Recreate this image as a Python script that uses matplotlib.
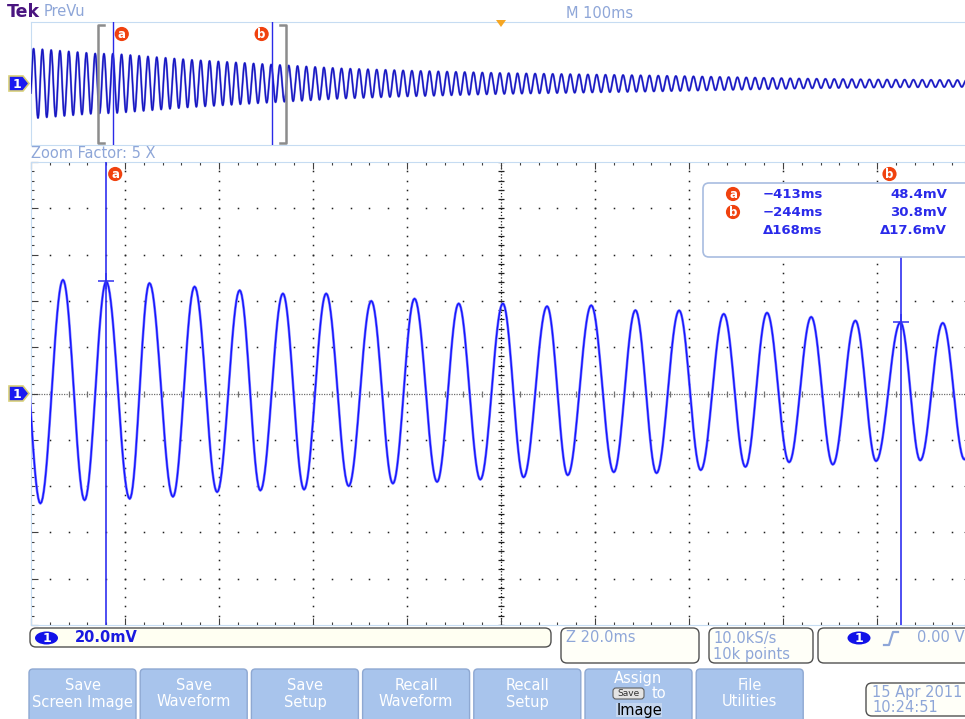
import numpy as np
import matplotlib.pyplot as plt
from matplotlib.patches import FancyBboxPatch, Polygon, Ellipse, Rectangle

W, H = 965, 719

# zoom window: 20 ms/div, 20 mV/div, 10 x 10 divisions
t_div = 20.0
v_div = 20.0
t_center = -329.0

# cursor a / b (time in ms, level in mV)
cursor_t = [-413.0, -244.0]
cursor_mv = [48.4, 30.8]
readout_time = ["\u2212413ms", "\u2212244ms", "\u0394168ms"]
readout_level = ["48.4mV", "30.8mV", "\u039417.6mV"]

# extrema of the zoomed trace
peak_t = [-431.6, -422.2, -413.0, -403.8, -394.2, -384.6, -375.4, -366.2,
          -356.6, -347.4, -338.0, -328.6, -319.2, -309.8, -300.4, -291.1,
          -281.6, -272.4, -263.0, -253.6, -244.0, -235.0, -225.8]
peak_mv = [48.0, 49.1, 48.4, 47.7, 46.2, 44.6, 43.2, 43.2,
           40.0, 41.0, 38.9, 38.9, 37.7, 38.1, 36.0, 35.9,
           34.4, 34.9, 33.1, 31.5, 30.8, 30.5, 30.0]
trough_t = [-427.0, -417.6, -408.0, -398.8, -389.4, -380.2, -370.9, -361.4,
            -352.0, -342.6, -333.4, -324.2, -314.8, -305.0, -295.9, -286.5,
            -277.0, -267.7, -258.4, -249.2, -239.8, -230.4]
trough_mv = [-47.5, -46.1, -45.5, -44.6, -42.6, -41.9, -41.5, -40.0,
             -38.9, -38.2, -37.2, -36.2, -35.3, -34.0, -34.4, -33.1,
             -31.7, -29.7, -30.7, -29.2, -28.9, -28.5]

# whole record (PreVu): envelope of the ringing, 100 ms/div
prevu_t = [-500, -430, -413, -330, -244, -170, -100, 0, 80, 160, 240, 320, 400, 500]
prevu_amp = [57, 48.5, 48.4, 38.5, 30.8, 24.5, 21, 17, 15, 13, 10.5, 8, 6.5, 5.5]
period_ms = 9.36
record_points = 10000

buttons = ["Save\nScreen Image", "Save\nWaveform", "Save\nSetup",
           "Recall\nWaveform", "Recall\nSetup", None, "File\nUtilities"]

LIGHT = "#8ea6d8"
BLUE = "#2a2aea"
EDGE = "#c6dcf2"


def px(x, y, w, h):
    return [x / W, 1 - (y + h) / H, w / W, h / H]


def half_cos(times, values, n=20):
    ts, vs = [], []
    for i in range(len(times) - 1):
        s = np.linspace(0, 1, n, endpoint=False)
        ts.append(times[i] + s * (times[i + 1] - times[i]))
        vs.append(values[i] + (values[i + 1] - values[i]) * (1 - np.cos(np.pi * s)) / 2)
    ts.append([times[-1]])
    vs.append([values[-1]])
    return np.concatenate(ts), np.concatenate(vs)


def badge(ax, x, letter, dx, dy):
    ax.annotate(letter, xy=(x, 1), xycoords=("data", "axes fraction"),
                xytext=(dx * 0.72, dy * 0.72), textcoords="offset points",
                ha="center", va="center", color="white", fontsize=8.5,
                fontweight="bold", annotation_clip=False,
                bbox=dict(boxstyle="circle,pad=0.05", fc="#f0420f", ec="none"))


fig = plt.figure(figsize=(W / 100, H / 100), dpi=100)
fig.patch.set_facecolor("white")

# ---- PreVu strip ----
ax_pv = fig.add_axes(px(31, 22, 940, 123))
rec_t = np.linspace(-500, 500, record_points)
rec_v = np.interp(rec_t, prevu_t, prevu_amp) * np.cos(2 * np.pi * (rec_t - cursor_t[0]) / period_ms)
ax_pv.plot(rec_t, rec_v, color="#7070e0", lw=1.5, zorder=2)
ax_pv.plot(rec_t, rec_v, color="#1414c0", lw=0.9, zorder=3)
ax_pv.set_xlim(-500, 500)
ax_pv.set_ylim(-100, 100)
ax_pv.set_xticks([])
ax_pv.set_yticks([])
for side in ["top", "bottom", "left"]:
    ax_pv.spines[side].set_color(EDGE)
ax_pv.spines["right"].set_visible(False)
tr = ax_pv.get_xaxis_transform()
zl, zr = t_center - 5 * t_div, t_center + 5 * t_div
arm = 6.4
ax_pv.plot([zl + arm, zl, zl, zl + arm], [0.976, 0.976, 0.016, 0.016],
           transform=tr, color="#8c8c8c", lw=1.8, zorder=4)
ax_pv.plot([zr - arm, zr, zr, zr - arm], [0.976, 0.976, 0.016, 0.016],
           transform=tr, color="#8c8c8c", lw=1.8, zorder=4)
for t in cursor_t:
    ax_pv.axvline(t, color="#2a2ae8", lw=1.0, zorder=5)
badge(ax_pv, cursor_t[0], "a", 9, -12)
badge(ax_pv, cursor_t[1], "b", -10, -12)

# ---- zoom window ----
ax = fig.add_axes(px(31, 162, 940, 463))
ax.set_xlim(t_center - 5 * t_div, t_center + 5 * t_div)
ax.set_ylim(-5 * v_div, 5 * v_div)
major_t = t_center + t_div * np.arange(-5, 6)
major_v = v_div * np.arange(-5, 6)
minor_t = t_center + t_div / 5 * np.arange(-25, 26)
minor_v = v_div / 5 * np.arange(-25, 26)
ax.set_xticks(major_t)
ax.set_xticks(minor_t, minor=True)
ax.set_yticks(major_v)
ax.set_yticks(minor_v, minor=True)
ax.tick_params(which="both", direction="in", top=True, bottom=True, left=True,
               right=True, labelbottom=False, labelleft=False,
               color="#404040", width=0.8)
ax.tick_params(which="major", length=5)
ax.tick_params(which="minor", length=2.5)
for side in ["top", "bottom", "left"]:
    ax.spines[side].set_color(EDGE)
ax.spines["right"].set_visible(False)

# graticule dots
for k in range(1, 10):
    if k == 5:
        continue
    ax.plot(np.full_like(minor_v, major_t[k]), minor_v, ls="none", marker="s",
            ms=1.1, mew=0, color="#202020", zorder=1)
    ax.plot(minor_t, np.full_like(minor_t, major_v[k]), ls="none", marker="s",
            ms=1.1, mew=0, color="#202020", zorder=1)
# centre crosshair
ax.axvline(t_center, color="#202020", lw=0.9, ls=(0, (1, 1.5)), zorder=1)
ax.axhline(0, color="#707070", lw=0.9, ls=(0, (1, 1)), zorder=1)
ax.plot(np.full_like(minor_v, t_center), minor_v, ls="none", marker="_",
        ms=4.5, mew=0.9, color="#202020", zorder=1)
ax.plot(minor_t, np.zeros_like(minor_t), ls="none", marker="|",
        ms=4.5, mew=0.9, color="#707070", zorder=1)

# trace
ext_t = sorted(peak_t + trough_t)
lookup = dict(zip(peak_t, peak_mv))
lookup.update(zip(trough_t, trough_mv))
tt, vv = half_cos(ext_t, [lookup[t] for t in ext_t])
ax.plot(tt, vv, color="#8080ff", lw=1.9, zorder=3)
ax.plot(tt, vv, color="#1414ff", lw=1.0, zorder=4)

# cursors
ax.axvline(cursor_t[0], color="#3030f0", lw=1.2, zorder=5)
ax.axvline(cursor_t[1], ymax=0.795, color="#3030f0", lw=1.2, zorder=5)
ax.plot(cursor_t, cursor_mv, ls="none", marker="+", ms=11, mew=1.1,
        color="#3030f0", zorder=6)
badge(ax, cursor_t[0], "a", 9, -12)
badge(ax, cursor_t[1], "b", -11, -12)

# ---- screen furniture in pixel coordinates ----
ui = fig.add_axes([0, 0, 1, 1], zorder=5)
ui.set_xlim(0, W)
ui.set_ylim(H, 0)
ui.axis("off")
ui.patch.set_visible(False)

ui.text(7, 12, "Tek", color="#4a1580", fontsize=12.5, fontweight="bold", va="center")
ui.text(44, 12, "PreVu", color=LIGHT, fontsize=10.5, va="center")
ui.text(566, 13, "M 100ms", color=LIGHT, fontsize=10.5, va="center")
ui.text(31, 153, "Zoom Factor: 5 X", color=LIGHT, fontsize=10.5, va="center")
ui.add_patch(Polygon([(496, 20), (506, 20), (501, 27)], closed=True,
                     fc="#f5a623", ec="none"))

for yc in [83.5, 393.5]:
    ui.add_patch(Polygon([(9, yc - 7.5), (23, yc - 7.5), (29, yc), (23, yc + 7.5), (9, yc + 7.5)],
                         closed=True, fc="#1a1af0", ec="#d8cf78", lw=1.2))
    ui.text(17, yc + 0.5, "1", color="white", fontsize=9, fontweight="bold",
            ha="center", va="center")

# cursor readout
ui.add_patch(FancyBboxPatch((703, 183), 290, 74, boxstyle="round,pad=0,rounding_size=6",
                            fc="white", ec="#a8bce0", lw=1.2))
for i, y in enumerate([194, 212, 230]):
    if i < 2:
        ui.text(733, y, "ab"[i], color="white", fontsize=8.5, fontweight="bold",
                ha="center", va="center",
                bbox=dict(boxstyle="circle,pad=0.05", fc="#f0420f", ec="none"))
    ui.text(763, y, readout_time[i], color=BLUE, fontsize=9.5, fontweight="bold", va="center")
    ui.text(947, y, readout_level[i], color=BLUE, fontsize=9.5, fontweight="bold",
            va="center", ha="right")

# status bar
ui.add_patch(FancyBboxPatch((30, 628), 521, 19, boxstyle="round,pad=0,rounding_size=6",
                            fc="#fffff2", ec="#505050", lw=1.0))
ui.add_patch(Ellipse((46.5, 638), 23, 13, fc="#1212e8", ec="none"))
ui.text(46.5, 638.5, "1", color="white", fontsize=9, fontweight="bold", ha="center", va="center")
ui.text(75, 638, "20.0mV", color="#1a1ae0", fontsize=10.5, fontweight="bold", va="center")

for x0, w in [(561, 138), (709, 104), (818, 170)]:
    ui.add_patch(FancyBboxPatch((x0, 628), w, 35, boxstyle="round,pad=0,rounding_size=6",
                                fc="#fffff8", ec="#505050", lw=1.0))
ui.text(566, 638, "Z 20.0ms", color=LIGHT, fontsize=10.5, va="center")
ui.text(713, 638, "10.0kS/s", color=LIGHT, fontsize=10.5, va="center")
ui.text(713, 654, "10k points", color=LIGHT, fontsize=10.5, va="center")
ui.add_patch(Ellipse((859, 638), 23, 13, fc="#1212e8", ec="none"))
ui.text(859, 638.5, "1", color="white", fontsize=9, fontweight="bold", ha="center", va="center")
ui.plot([884, 889, 893, 898], [645, 645, 632, 632], color=LIGHT, lw=1.6)
ui.text(917, 638, "0.00 V", color=LIGHT, fontsize=10.5, va="center")

ui.add_patch(FancyBboxPatch((866, 683), 130, 33, boxstyle="round,pad=0,rounding_size=6",
                            fc="#fffff8", ec="#505050", lw=1.0))
ui.text(872, 692, "15 Apr 2011", color=LIGHT, fontsize=10.5, va="center")
ui.text(872, 708, "10:24:51", color=LIGHT, fontsize=10.5, va="center")

# soft keys
for i, label in enumerate(buttons):
    x0 = 29 + i * 111.2
    ui.add_patch(FancyBboxPatch((x0, 669), 107, 60, boxstyle="round,pad=0,rounding_size=4",
                                fc="#a8c4ec", ec="#8ea8d2", lw=1.0))
    cx = x0 + 53.5
    if label is None:
        ui.text(cx, 678, "Assign", color="white", fontsize=10.5, ha="center", va="center")
        ui.add_patch(FancyBboxPatch((613, 688), 31, 11, boxstyle="round,pad=0,rounding_size=3",
                                    fc="#e4e4e4", ec="#606060", lw=0.8))
        ui.text(628.5, 693.5, "Save", color="#303030", fontsize=6.5, ha="center", va="center")
        ui.text(652, 693, "to", color="white", fontsize=10.5, va="center")
        ui.add_patch(Rectangle((616, 703), 46, 14, fc="#c4d6f0", ec="none"))
        ui.text(639, 710, "Image", color="black", fontsize=10.5, ha="center", va="center")
    else:
        top, bottom = label.split("\n")
        ui.text(cx, 686, top, color="white", fontsize=10.5, ha="center", va="center")
        ui.text(cx, 702, bottom, color="white", fontsize=10.5, ha="center", va="center")

fig.savefig("out.png", dpi=100)
